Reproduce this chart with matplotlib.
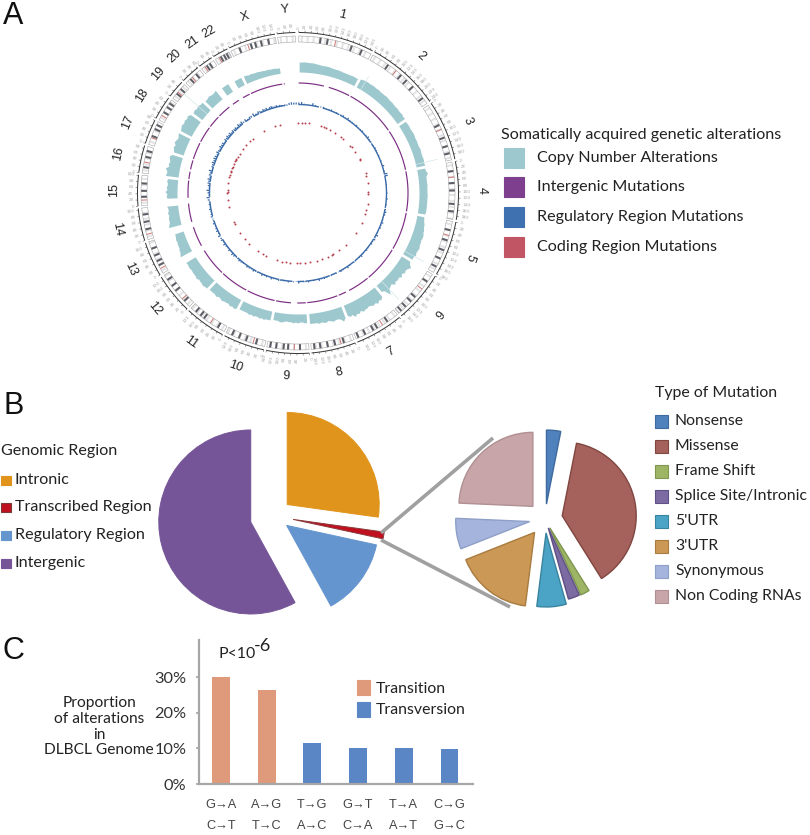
import numpy as np
import matplotlib
matplotlib.use("Agg")
import matplotlib.pyplot as plt
from matplotlib.patches import Rectangle

W, H = 810, 835
TEXT_FONT = ["Lato", "DejaVu Sans"]
NARROW_FONT = ["Liberation Sans", "DejaVu Sans"]

# --- Panel A data ---
CHROMS = [str(i) for i in range(1, 23)] + ["X", "Y"]
CHROM_MB = [249, 243, 198, 191, 181, 171, 159, 146, 141, 136, 135, 134,
            115, 107, 102, 90, 81, 78, 59, 63, 48, 51, 155, 59]
CENTROMERE_MB = [124, 93, 91, 50, 48, 60, 60, 45, 49, 40, 54, 35,
                 18, 18, 19, 37, 24, 17, 26, 28, 13, 14, 60, 12]
IDEO_DARK_MB = [
    [73, 97, 180, 216], [60, 115, 140, 170, 220], [75, 120, 150, 175],
    [30, 70, 95, 140, 165], [30, 65, 100, 130, 160], [30, 95, 115, 140, 160],
    [40, 80, 95, 125, 150], [35, 65, 90, 115, 135], [30, 70, 85, 110, 130],
    [30, 65, 90, 115], [25, 80, 95, 115], [25, 70, 90, 115],
    [30, 45, 65, 90], [35, 60, 85], [30, 50, 75], [20, 55, 75],
    [30, 55, 70], [30, 50, 65], [20, 40], [20, 45], [20, 32], [20, 32, 42],
    [30, 70, 85, 105, 130], [],
]
CNA_START_MB = {12: 19, 13: 19, 14: 20, 20: 14, 21: 16}
CNA_HEIGHT = [
    [10, 10, 10.3, 10, 9.8, 10, 9.6, 9.3, 9, 8.8, 9, 9, 8.7, 8.4, 8.3, 8.5, 8.2, 8, 8, 8, 8, 8.3, 8, 8],
    [9, 9.5, 10, 10, 9.7, 10, 10, 9.7, 10, 9.5, 9.6, 9.5, 10, 9.5, 9.3, 9.5, 9.2, 9, 9.4, 9, 9, 9.4, 8.8, 9],
    [8, 8.3, 8.5, 8.2, 8.5, 8.8, 8.5, 8.2, 8.5, 8.2, 8.2, 8.8, 8.5, 8.2, 8.5, 8.8, 8.2, 8.8],
    [8, 8.5, 10, 8, 8, 8, 8.3, 8, 8, 8, 8.3, 8, 8, 8, 8, 8, 8, 7.5],
    [7, 7.5, 8, 9, 9, 10, 10, 11, 11, 10.5, 11, 11, 12, 11.5, 11, 12, 10.5, 11],
    [10, 11, 14, 12, 11, 12, 10, 12, 10, 11, 10, 12, 9, 10, 11, 16, 9, 8],
    [12, 14, 13, 15, 13, 14, 13, 12, 13, 13, 14, 12, 14, 13, 15, 12, 13, 11],
    [12, 15, 12, 11, 11, 12, 11, 10, 11, 11, 10, 11, 10, 10, 10, 10],
    [9, 9, 8, 8, 9, 8, 9, 8, 8, 7.5, 8, 9, 9, 8, 8, 8],
    [9, 9, 9, 10, 9, 10, 9, 9, 10, 9, 10, 9, 9, 9, 9, 9],
    [10, 11, 10, 11, 9.5, 10, 10, 11, 10, 9.5, 11, 10, 10, 10, 10],
    [11, 11, 12, 11, 11, 10.5, 12, 11, 11, 11, 10.5, 11, 11, 10.5, 11],
    [13, 12, 11, 11, 10, 10, 10, 9.5, 10, 9.5, 9, 9],
    [13, 12, 11, 11, 11, 10, 11, 10, 10, 11],
    [10, 11, 10, 12, 10, 11, 10, 10, 11, 10],
    [13, 12, 12, 14, 11, 12, 11, 12, 13, 11],
    [10, 11, 12, 11, 13, 12, 11, 12, 13],
    [12, 13, 14, 13, 14, 13, 14, 12],
    [11, 12, 11, 12, 11, 11],
    [10, 10, 11, 10, 10, 11],
    [9, 9, 9, 9],
    [8, 8, 8, 8],
    [8, 8, 7, 7.5, 7, 7, 7, 6.5, 6.5, 6, 6.5, 6, 6, 6, 5.5, 5.5],
    [],
]
# chrom index, Mb, height of the faint single-bin spikes
CNA_SPIKE_CHROM = [1, 2, 4, 5, 18]
CNA_SPIKE_MB = [25, 185, 165, 140, 35]
CNA_SPIKE_HEIGHT = [15, 22, 22, 25, 30]
# chrom index -> Mb range without intergenic calls
PURPLE_GAP_MB = {0: (121, 145), 6: (105, 122), 8: (40, 70), 12: (0, 19), 13: (0, 19),
                 14: (0, 20), 15: (35, 46), 20: (0, 14), 21: (0, 16), 23: (5, 59)}
BLUE_BUMP = [
    [2, 2.5, 1, 0.5, 0.5, 2.5, 1, 0.5, 1, 1.5, 0.5, 1, 1.5, 0.5, 1, 0.5],
    [1, 1.5, 0.5, 2, 1, 1, 0.5, 1.5, 0.5, 1, 1.5, 0.5, 1, 2, 1, 1],
    [0.5, 1, 1.5, 1, 0.5, 1, 0.5, 1, 0.5, 2, 0.5, 1, 3],
    [3, 0.5, 0.5, 1, 0.5, 0.5, 1, 0.5, 1.5, 0.5, 1, 0.5],
    [1, 2, 1.5, 0.5, 1, 2, 1, 1.5, 0.5, 1, 2.5, 1],
    [2, 1, 1.5, 0.5, 1, 1.5, 0.5, 1, 2, 1, 0.5, 1],
    [1, 0.5, 1, 2, 0.5, 1, 1.5, 0.5, 1, 0.5, 1],
    [0.5, 1, 1.5, 1, 2, 0.5, 1, 0.5, 1.5, 1],
    [1, 0.5, 2, 0.5, 1, 0.5, 1.5, 0.5, 1, 1],
    [1.5, 0.5, 1, 2, 0.5, 1.5, 1, 2, 0.5, 1],
    [1, 2, 1, 1.5, 2, 0.5, 1, 1.5, 2, 1],
    [1, 2, 2.5, 1, 2, 1, 1.5, 2.5, 1, 2],
    [1.5, 2.5, 1, 2, 1.5, 1, 2, 1],
    [1, 2, 1.5, 1, 2, 1, 1.5, 1],
    [2, 3, 1, 2, 3, 1, 2, 2.5],
    [2, 3, 1.5, 2.5, 2, 3.5, 1, 2],
    [2, 3, 2, 3, 2.5, 1.5, 3],
    [2, 1.5, 3, 2, 2.5, 1, 2.5],
    [2, 3, 2, 3, 1.5, 2.5],
    [2, 2.5, 1.5, 3, 2, 3],
    [1.5, 2.5, 1, 2],
    [2, 3, 1.5, 2.5],
    [2, 1, 2.5, 1.5, 2.5, 1, 2, 2.5, 1.5, 1, 2, 1, 1.5, 1, 0.5, 1],
    [0.5, 2, 2.5, 2, 2],
]
RED_DEG = [0, 3, 5.6, 9, 18.7, 21.7, 23.4, 27, 31.5, 37.7, 40, 47.8, 49.7, 54, 60.8, 62,
           73.6, 76, 82, 89, 91, 99, 103.9, 107, 115, 124.7, 137, 144, 150, 151, 155, 160,
           164, 170, 174, 178.4, 181, 186.5, 190, 193.5, 197, 206.6, 209.6, 214.4, 223.6,
           229, 235.5, 244, 246, 258.7, 264, 270, 271, 272.5, 278, 283, 285, 287, 288,
           290.9, 292, 294, 296.8, 298, 299, 301, 304, 309, 313, 317, 320, 331, 341, 345]

# --- Panel B data ---
REGION_LABELS = ["Intronic", "Transcribed Region", "Regulatory Region", "Intergenic"]
REGION_VALUES = [27.2, 1.2, 13.6, 58.0]
REGION_COLORS = ["#E0941B", "#C00F1E", "#6495CE", "#755597"]
REGION_EDGES = ["#E0941B", "#8A3A3A", "#6495CE", "#755597"]
REGION_EXPLODE = [17.5, 19.4, 15.7, 24.0]
MUTATION_LABELS = ["Nonsense", "Missense", "Frame Shift", "Splice Site/Intronic",
                   "5'UTR", "3'UTR", "Synonymous", "Non Coding RNAs"]
MUTATION_VALUES = [3.1, 38.0, 2.0, 2.5, 6.4, 17.0, 6.7, 24.3]
MUTATION_COLORS = ["#4F81BD", "#A5615C", "#9DB565", "#7C6BA2",
                   "#4BA3C6", "#CC9855", "#A4B4DC", "#C7A5A8"]
MUTATION_EDGES = ["#3F6A9E", "#804640", "#7F9650", "#5F5085",
                  "#38849F", "#A87B40", "#8E9FC8", "#B09093"]
MUTATION_EXPLODE = [15.0, 17.5, 10.0, 9.5, 14.0, 17.0, 15.5, 17.5]

# --- Panel C data ---
SUBST_LABELS = ["G→A\nC→T", "A→G\nT→C", "T→G\nA→C", "G→T\nC→A", "T→A\nA→T", "C→G\nG→C"]
SUBST_VALUES = [29.9, 26.5, 11.4, 10.1, 10.1, 9.7]
TRANSITION_COLOR = "#DE9A7A"
TRANSVERSION_COLOR = "#5B86C6"
SUBST_COLORS = [TRANSITION_COLOR] * 2 + [TRANSVERSION_COLOR] * 4

DEG_PER_MB = 0.11
GAP_DEG = 0.81
CHROM_START = [0.3]
for mb in CHROM_MB[:-1]:
    CHROM_START.append(CHROM_START[-1] + mb * DEG_PER_MB + GAP_DEG)


def to_theta(chrom, mb):
    return np.deg2rad(CHROM_START[chrom] + np.asarray(mb) * DEG_PER_MB)


fig = plt.figure(figsize=(W / 100, H / 100), dpi=100)

# overlay in pixel coordinates, y going up
ov = fig.add_axes([0, 0, 1, 1])
ov.patch.set_alpha(0)


def put(x, y, s, size=12, **kw):
    kw.setdefault("color", "#222222")
    kw.setdefault("family", TEXT_FONT)
    kw.setdefault("va", "center")
    ov.text(x, H - y, s, fontsize=size, **kw)


def swatch(x, y, w, h, color, edge=None):
    ov.add_patch(Rectangle((x, H - y - h), w, h, facecolor=color,
                           edgecolor=edge or color, lw=0.8))


# --- Panel A: circular genome plot ---
RMAX = 190
cx, cy = 298, 193
ax = fig.add_axes([(cx - RMAX) / W, (H - cy - RMAX) / H, 2 * RMAX / W, 2 * RMAX / H],
                  projection="polar")
ax.set_theta_zero_location("N")
ax.set_theta_direction(-1)
ax.set_rlim(0, RMAX)
ax.set_axis_off()

BASE_CNA = 121
for i, name in enumerate(CHROMS):
    mb_len = CHROM_MB[i]
    t0, t1 = to_theta(i, 0), to_theta(i, mb_len)
    arc = np.linspace(t0, t1, 60)
    mid_deg = np.rad2deg((t0 + t1) / 2)

    # scale arc, ticks, tick labels
    ax.plot(arc, np.full(60, 160.5), color="#333333", lw=0.7, solid_capstyle="butt")
    major = np.arange(0, mb_len + 1, 20)
    ax.vlines(to_theta(i, major), 160.5, 162.5, color="#555555", lw=0.4)
    for mb in major:
        deg = CHROM_START[i] + mb * DEG_PER_MB
        if deg < 180:
            ax.text(np.deg2rad(deg), 164.5, str(mb), rotation=90 - deg, ha="left", va="center",
                    rotation_mode="anchor", fontsize=3.1, color="#a8a8a8")
        else:
            ax.text(np.deg2rad(deg), 164.5, str(mb), rotation=270 - deg, ha="right", va="center",
                    rotation_mode="anchor", fontsize=3.1, color="#a8a8a8")

    # chromosome name
    rot = -mid_deg if (mid_deg < 140 or mid_deg > 265) else 180 - mid_deg
    ax.text(np.deg2rad(mid_deg), 184, name, rotation=rot, ha="center", va="center",
            rotation_mode="anchor", fontsize=9, color="#222222", family=NARROW_FONT)

    # ideogram
    light = np.arange(10, mb_len, 20)
    ax.bar(to_theta(i, light), 6, width=np.deg2rad(7 * DEG_PER_MB), bottom=151,
           color="#e4e4e6", lw=0)
    if IDEO_DARK_MB[i]:
        ax.bar(to_theta(i, IDEO_DARK_MB[i]), 6, width=np.deg2rad(7 * DEG_PER_MB), bottom=151,
               color="#5e5e66", lw=0)
    if i != 23:
        ax.bar(to_theta(i, CENTROMERE_MB[i]), 6, width=np.deg2rad(3.5 * DEG_PER_MB), bottom=151,
               color="#d07a78", lw=0)
    ax.plot(arc, np.full(60, 151), color="#999999", lw=0.35)
    ax.plot(arc, np.full(60, 157), color="#999999", lw=0.35)
    ax.vlines([t0, t1], 151, 157, color="#999999", lw=0.35)

    # copy number track, one vertex per bin
    heights = CNA_HEIGHT[i]
    if heights:
        start = CNA_START_MB.get(i, 0)
        mbs = np.linspace(start + 2, mb_len - 2, len(heights))
        ax.fill_between(to_theta(i, mbs), BASE_CNA, BASE_CNA + np.array(heights),
                        color="#9CC8CE", lw=0)

    # intergenic track
    segs = [(0, mb_len)]
    if i in PURPLE_GAP_MB:
        g0, g1 = PURPLE_GAP_MB[i]
        segs = [(s0, s1) for s0, s1 in [(0, g0), (g1, mb_len)] if s1 > s0]
    for s0, s1 in segs:
        th = to_theta(i, np.linspace(s0, s1, 30))
        ax.plot(th, np.full(30, 110), color="#7B2D83", lw=0.85, solid_capstyle="butt")

    # regulatory track
    for s0, s1 in segs:
        th = to_theta(i, np.linspace(s0, s1, 30))
        ax.plot(th, np.full(30, 88.5), color="#3A6AA8", lw=1.0, solid_capstyle="butt")
    bump_mb = np.linspace(2, mb_len - 2, len(BLUE_BUMP[i]))
    ax.bar(to_theta(i, bump_mb), BLUE_BUMP[i], width=np.deg2rad(0.8), bottom=88.5,
           color="#3A6AA8", lw=0)

for c, mb, h in zip(CNA_SPIKE_CHROM, CNA_SPIKE_MB, CNA_SPIKE_HEIGHT):
    ax.plot([to_theta(c, mb)] * 2, [BASE_CNA, BASE_CNA + h], color="#D5E7EA", lw=0.5)

# coding track
ax.scatter(np.deg2rad(RED_DEG), np.full(len(RED_DEG), 70.5), s=2.0, color="#B5404F", lw=0)
ax.set_rlim(0, RMAX)

put(3, 16, "A", 22, family="Liberation Sans", color="#111111")
put(501, 135, "Somatically acquired genetic alterations", 11.6)
A_LABELS = ["Copy Number Alterations", "Intergenic Mutations",
            "Regulatory Region Mutations", "Coding Region Mutations"]
A_COLORS = ["#9CC8CE", "#7E3F8F", "#3F71B0", "#C25563"]
for lbl, col, y in zip(A_LABELS, A_COLORS, [158, 187, 217, 247]):
    swatch(504, y - 10, 20, 20, col)
    put(537, y, lbl, 11.6)

# --- Panel B: pies ---
wedges, _ = ov.pie(REGION_VALUES, explode=REGION_EXPLODE, colors=REGION_COLORS,
                   startangle=90, counterclock=False, radius=92, center=(274, H - 516))
for w, e in zip(wedges, REGION_EDGES):
    w.set_edgecolor(e)
    w.set_linewidth(0.7)
wedges, _ = ov.pie(MUTATION_VALUES, explode=MUTATION_EXPLODE, colors=MUTATION_COLORS,
                   startangle=90, counterclock=False, radius=74, center=(545, H - 519))
for w, e in zip(wedges, MUTATION_EDGES):
    w.set_edgecolor(e)
    w.set_linewidth(1.0)
ov.set_xlim(0, W)
ov.set_ylim(0, H)
ov.set_aspect("auto")
ov.set_axis_off()

ov.plot([381, 493], [H - 533, H - 438], color="#A0A0A0", lw=2.6, solid_capstyle="butt")
ov.plot([381, 510], [H - 540, H - 607], color="#A0A0A0", lw=2.6, solid_capstyle="butt")

put(3, 406, "B", 22, family="Liberation Sans", color="#111111")
put(1, 451, "Genomic Region", 11.6)
for lbl, col, edge, y in zip(REGION_LABELS, REGION_COLORS,
                             ["#E0941B", "#7A3A3A", "#6495CE", "#755597"], [480, 507, 535, 563]):
    swatch(1, y - 4.5, 10, 9, col, edge)
    put(15, y, lbl, 11.6)

put(655, 393, "Type of Mutation", 11.4)
for k, (lbl, col, edge) in enumerate(zip(MUTATION_LABELS, MUTATION_COLORS, MUTATION_EDGES)):
    y = 421 + 25 * k
    swatch(655, y - 6.5, 13, 13, col, edge)
    put(675, y, lbl, 11.3)

# --- Panel C: bars ---
bx = fig.add_axes([199 / W, (H - 784) / H, 274 / W, 144 / H])
bx.bar(range(len(SUBST_VALUES)), SUBST_VALUES, width=0.39, color=SUBST_COLORS)
bx.set_xlim(-0.48, 5.515)
bx.set_ylim(0, 40.4)
bx.patch.set_alpha(0)
for side in ["top", "right"]:
    bx.spines[side].set_visible(False)
for side in ["left", "bottom"]:
    bx.spines[side].set_color("#A6A6A6")
    bx.spines[side].set_linewidth(1.6)
bx.set_yticks([0, 10, 20, 30])
bx.set_yticklabels(["0%", "10%", "20%", "30%"], family=TEXT_FONT, fontsize=11.8, color="#333333")
bx.set_xticks(range(len(SUBST_LABELS)))
bx.set_xticklabels(SUBST_LABELS, family=NARROW_FONT, fontsize=9.2, color="#444444", linespacing=2.0)
bx.tick_params(axis="y", length=2, width=1.2, color="#A6A6A6", pad=7)
bx.tick_params(axis="x", length=0, pad=11)

put(3, 651, "C", 22, family="Liberation Sans", color="#111111")
put(218, 654, "P<10", 11.4)
put(254, 646, "-6", 13)
swatch(357, 680, 13, 15, TRANSITION_COLOR)
swatch(357, 702, 13, 15, TRANSVERSION_COLOR)
put(376, 689, "Transition", 11.4)
put(376, 710, "Transversion", 11.4)
for lbl, y in zip(["Proportion", "of alterations", "in", "DLBCL Genome"], [703, 719, 735, 750]):
    put(99, y, lbl, 11.2, ha="center")

fig.savefig("out.png", dpi=100)
